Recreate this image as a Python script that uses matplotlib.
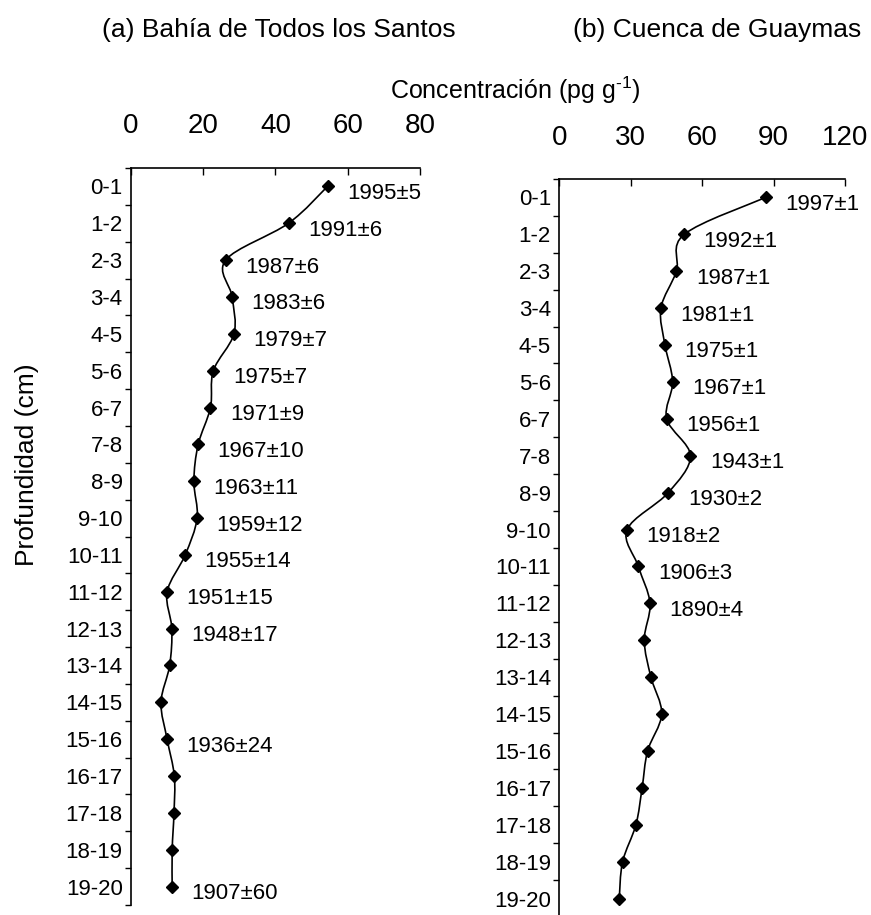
import numpy as np
import matplotlib
matplotlib.use("Agg")
import matplotlib.pyplot as plt
from matplotlib.path import Path
from matplotlib.patches import PathPatch

plt.rcParams["font.family"] = ["Liberation Sans", "DejaVu Sans"]
plt.rcParams["mathtext.fontset"] = "custom"
plt.rcParams["mathtext.rm"] = "Liberation Sans"
plt.rcParams["mathtext.default"] = "regular"

depths = ["0-1", "1-2", "2-3", "3-4", "4-5", "5-6", "6-7", "7-8", "8-9", "9-10",
          "10-11", "11-12", "12-13", "13-14", "14-15", "15-16", "16-17", "17-18",
          "18-19", "19-20"]

# (a) Bahia de Todos los Santos
conc_a = [54.4, 43.6, 26.2, 28.0, 28.5, 22.8, 22.0, 18.6, 17.4, 18.3,
          15.0, 10.0, 11.3, 10.7, 8.3, 10.0, 12.0, 11.9, 11.4, 11.4]
dates_a = ["1995±5", "1991±6", "1987±6", "1983±6", "1979±7", "1975±7", "1971±9",
           "1967±10", "1963±11", "1959±12", "1955±14", "1951±15", "1948±17",
           None, None, "1936±24", None, None, None, "1907±60"]

# (b) Cuenca de Guaymas
conc_b = [86.7, 52.5, 49.2, 42.7, 44.4, 47.6, 45.1, 55.1, 45.8, 28.5,
          33.2, 38.1, 35.7, 38.5, 43.0, 37.1, 34.8, 32.2, 26.6, 25.2]
dates_b = ["1997±1", "1992±1", "1987±1", "1981±1", "1975±1", "1967±1", "1956±1",
           "1943±1", "1930±2", "1918±2", "1906±3", "1890±4",
           None, None, None, None, None, None, None, None]


def smooth_path(x, y):
    # Catmull-Rom style smoothing, like a spreadsheet "smoothed line"
    pts = np.column_stack([x, y])
    ext = np.vstack([pts[0], pts, pts[-1]])
    verts = [pts[0]]
    codes = [Path.MOVETO]
    for i in range(len(pts) - 1):
        p0, p1, p2, p3 = ext[i], ext[i + 1], ext[i + 2], ext[i + 3]
        verts += [p1 + (p2 - p0) / 6, p2 - (p3 - p1) / 6, p2]
        codes += [Path.CURVE4] * 3
    return Path(verts, codes)


def draw_panel(ax, conc, dates, xmax, xticks, pad):
    ypos = np.arange(len(depths)) + 0.5
    ax.add_patch(PathPatch(smooth_path(conc, ypos), fill=False, lw=1.2, color="black"))
    ax.plot(conc, ypos, ls="none", marker="D", ms=5.8, color="black")
    for xv, yv, lab in zip(conc, ypos, dates):
        if lab:
            ax.annotate(lab, (xv, yv), xytext=(14, -5), textcoords="offset points",
                        fontsize=16, va="center", ha="left")
    ax.set_xlim(0, xmax)
    ax.set_ylim(len(depths), 0)
    ax.xaxis.tick_top()
    ax.set_xticks(xticks)
    ax.tick_params(axis="x", direction="in", length=5, width=1, pad=pad, labelsize=20)
    ax.set_yticks(ypos)
    ax.set_yticklabels(depths)
    ax.tick_params(axis="y", which="major", length=0, pad=6, labelsize=16)
    ax.set_yticks(np.arange(0, len(depths) + 1), minor=True)
    ax.tick_params(axis="y", which="minor", direction="out", length=4, width=1)
    for s in ["right", "bottom"]:
        ax.spines[s].set_visible(False)
    for s in ["top", "left"]:
        ax.spines[s].set_linewidth(1.2)


fig = plt.figure(figsize=(8.71, 9.15), dpi=100)
ax_a = fig.add_axes([0.1504, 0.0109, 0.3318, 0.8055])
ax_b = fig.add_axes([0.6421, -0.0022, 0.3280, 0.8066])

draw_panel(ax_a, conc_a, dates_a, 80, [0, 20, 40, 60, 80], 21)
draw_panel(ax_b, conc_b, dates_b, 120, [0, 30, 60, 90, 120], 20)

fig.text(279 / 871, 1 - 30 / 915, "(a) Bahía de Todos los Santos", fontsize=19,
         ha="center", va="center")
fig.text(717 / 871, 1 - 30 / 915, "(b) Cuenca de Guaymas", fontsize=19,
         ha="center", va="center")
fig.text(515 / 871, 1 - 90 / 915, r"Concentración (pg g$^{\text{-1}}$)", fontsize=18,
         ha="center", va="center")
fig.text(27 / 871, 1 - 465 / 915, "Profundidad (cm)", fontsize=19, rotation=90,
         ha="center", va="center")

fig.savefig("out.png", dpi=100)
